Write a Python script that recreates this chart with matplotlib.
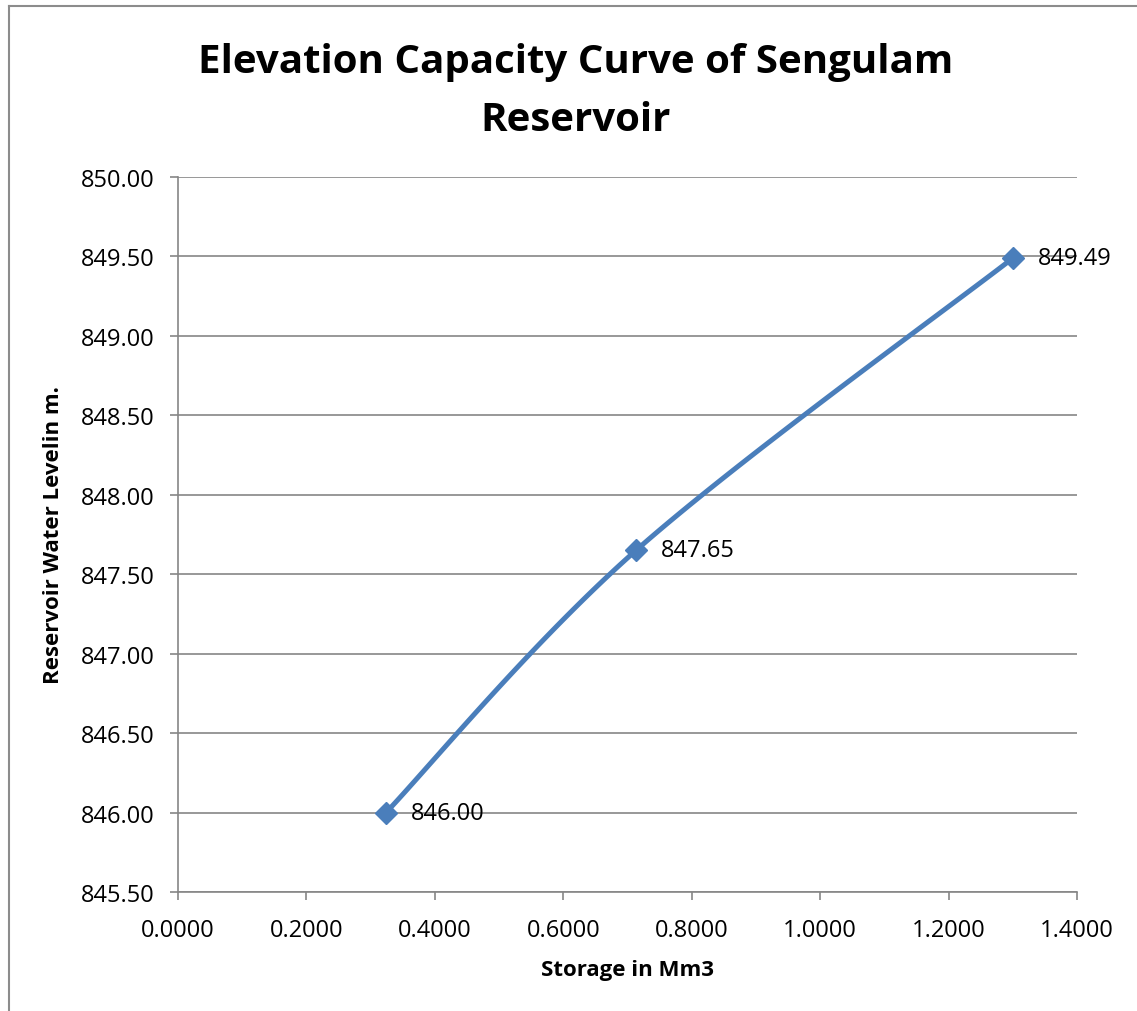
import matplotlib
matplotlib.use("Agg")
import matplotlib.pyplot as plt
import numpy as np
from matplotlib.lines import Line2D

plt.rcParams['font.family'] = ['Open Sans', 'DejaVu Sans']

# data
storage = [0.3239, 0.7132, 1.3003]
level = [846.00, 847.65, 849.49]
point_labels = ['846.00', '847.65', '849.49']

x_ticks = [0.0, 0.2, 0.4, 0.6, 0.8, 1.0, 1.2, 1.4]
y_ticks = [845.5, 846.0, 846.5, 847.0, 847.5, 848.0, 848.5, 849.0, 849.5, 850.0]

line_color = '#4A7EBB'
grid_color = '#868686'


def smooth_curve(xs, ys, n=60):
    """Catmull-Rom spline through the points, like Excel's smoothed line."""
    px = [xs[0]] + list(xs) + [xs[-1]]
    py = [ys[0]] + list(ys) + [ys[-1]]
    out_x, out_y = [], []
    for i in range(1, len(px) - 2):
        t = np.linspace(0, 1, n)
        for p, out in ((px, out_x), (py, out_y)):
            p0, p1, p2, p3 = p[i - 1], p[i], p[i + 1], p[i + 2]
            out.extend(0.5 * ((2 * p1) + (-p0 + p2) * t
                              + (2 * p0 - 5 * p1 + 4 * p2 - p3) * t ** 2
                              + (-p0 + 3 * p1 - 3 * p2 + p3) * t ** 3))
    return np.array(out_x), np.array(out_y)


fig = plt.figure(figsize=(11.37, 10.12), dpi=100)
ax = fig.add_axes([0.1566, 0.1176, 0.7906, 0.7065])

sx, sy = smooth_curve(storage, level)
ax.plot(sx, sy, color=line_color, linewidth=3.6, solid_capstyle='round', zorder=3)
ax.plot(storage, level, linestyle='none', marker='D', markersize=11,
        color=line_color, zorder=4)

for x, y, lab in zip(storage, level, point_labels):
    ax.annotate(lab, (x, y), xytext=(18, 0), textcoords='offset points',
                va='center', ha='left', fontsize=17, color='black')

ax.set_xlim(0, 1.4)
ax.set_ylim(845.5, 850.0)
ax.set_xticks(x_ticks)
ax.set_yticks(y_ticks)
ax.set_xticklabels([f'{v:.4f}' for v in x_ticks])
ax.set_yticklabels([f'{v:.2f}' for v in y_ticks])
ax.tick_params(axis='both', direction='out', length=6, width=1.2,
               color=grid_color, labelsize=17)
ax.tick_params(axis='x', pad=13)
ax.tick_params(axis='y', pad=11)

ax.grid(axis='y', color=grid_color, linewidth=1.2)
ax.set_axisbelow(True)
for side in ('top', 'right'):
    ax.spines[side].set_visible(False)
for side in ('left', 'bottom'):
    ax.spines[side].set_color(grid_color)
    ax.spines[side].set_linewidth(1.2)

ax.set_xlabel('Storage in Mm3', fontsize=16, fontweight='bold', labelpad=12)
ax.set_ylabel('Reservoir Water Levelin m.', fontsize=16, fontweight='bold', labelpad=12)

fig.text(0.5066, 0.9385, 'Elevation Capacity Curve of Sengulam', ha='center',
         va='center', fontsize=29, fontweight='bold')
fig.text(0.5066, 0.881, 'Reservoir', ha='center', va='center', fontsize=29,
         fontweight='bold')

# chart-area border (only top and left edges visible in the crop)
fig.add_artist(Line2D([0.0075, 1.0], [0.9935, 0.9935], color='#8c8c8c', linewidth=1.5))
fig.add_artist(Line2D([0.0075, 0.0075], [0.0, 0.9935], color='#8c8c8c', linewidth=1.5))

fig.savefig('out.png', dpi=100)
